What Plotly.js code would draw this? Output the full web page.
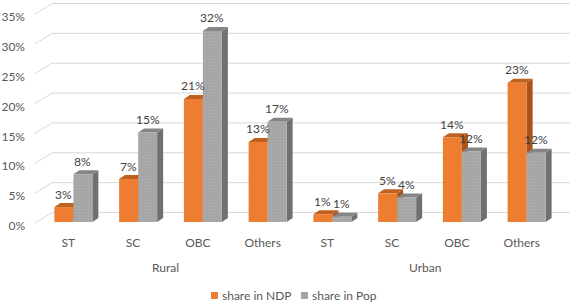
<!DOCTYPE html>
<html><head><meta charset="utf-8">
<script src="https://cdn.plot.ly/plotly-3.0.1.min.js"></script>
<style>html,body{margin:0;padding:0;background:#fff}#chart{width:572px;height:305px}</style>
</head><body><div id="chart"></div>
<script>
// ---- data ----
const groupNames = ['Rural', 'Urban'];
const groupOf = ['Rural','Rural','Rural','Rural','Urban','Urban','Urban','Urban'];
const categories = ['ST','SC','OBC','Others','ST','SC','OBC','Others'];
const seriesNames = ['share in NDP', 'share in Pop'];
const shareNDP = [2.5, 7.2, 20.6, 13.4, 1.3, 4.8, 14.2, 23.3];
const sharePop = [8.0, 15.0, 32.0, 16.8, 0.9, 4.1, 11.8, 11.6];
const yTicks = [0, 5, 10, 15, 20, 25, 30, 35];

// ---- geometry / style ----
const W = 572, H = 305, mL = 36, mR = 18, mT = 13, mB = 83;
const pw = W - mL - mR, ph = H - mT - mB;
const xr = [-0.5, categories.length - 0.5], yr = [0, 35];
const ux = (xr[1] - xr[0]) / pw;   // data units per px (x)
const uy = (yr[1] - yr[0]) / ph;   // data units per px (y)
const barW = 19 * ux, shift = 5 * ux, depX = 6 * ux, depY = 4 * uy;
const FONT = 'Lato, "Open Sans", sans-serif';
const idx = categories.map((_, i) => i);

const series = [
  {name: seriesNames[0], vals: shareNDP, off: shift - barW, front: '#ED7D31', top: '#C0621F', side: '#A9531A', pattern: null},
  {name: seriesNames[1], vals: sharePop, off: shift, front: '#A5A5A5', top: '#858585', side: '#707070',
   pattern: {shape: '.', bgcolor: '#A5A5A5', fgcolor: '#AFAFAF', size: 3, solidity: 0.25}}
];

const traces = series.map(s => {
  const marker = {color: s.front, line: {width: 0}};
  if (s.pattern) marker.pattern = s.pattern;
  return {
    type: 'bar', x: idx, y: s.vals, name: s.name,
    width: barW, offset: s.off, marker,
    hoverinfo: 'skip', showlegend: false
  };
});

const shapes = [];
// gridlines (back wall + slanted edge)
const px2paperX = p => (p - mL) / pw;
yTicks.forEach(v => {
  const yf = v / yr[1] - 1 / ph, yb = v / yr[1] + 9.5 / ph;
  shapes.push({type: 'path', xref: 'paper', yref: 'paper', layer: 'below',
    path: `M ${px2paperX(35)},${yf} L ${px2paperX(52)},${yb} L ${px2paperX(570)},${yb}`,
    line: {color: '#D9D9D9', width: 1}});
});
// 3D faces
series.forEach(s => {
  s.vals.forEach((v, i) => {
    const x0 = i + s.off, x1 = x0 + barW;
    shapes.push({type: 'path', xref: 'x', yref: 'y', layer: 'below',
      path: `M ${x1},0 L ${x1 + depX},${depY} L ${x1 + depX},${v + depY} L ${x1},${v} Z`,
      fillcolor: s.side, line: {width: 0}});
    shapes.push({type: 'path', xref: 'x', yref: 'y', layer: 'below',
      path: `M ${x0},${v} L ${x1},${v} L ${x1 + depX},${v + depY} L ${x0 + depX},${v + depY} Z`,
      fillcolor: s.top, line: {width: 0}});
  });
});

const annotations = [];
// data labels
series.forEach(s => {
  s.vals.forEach((v, i) => {
    annotations.push({x: i + s.off + barW / 2, y: v, xref: 'x', yref: 'y',
      text: Math.round(v) + '%', showarrow: false, yanchor: 'middle', yshift: 13,
      font: {family: FONT, size: 12, color: '#404040'}});
  });
});
// group labels
groupNames.forEach(g => {
  const members = idx.filter(i => groupOf[i] === g);
  const cx = members.reduce((a, b) => a + b, 0) / members.length;
  annotations.push({x: cx, y: (mT + ph - 267) / ph, xref: 'x', yref: 'paper',
    text: g, showarrow: false, yanchor: 'middle',
    font: {family: FONT, size: 12, color: '#595959'}});
});
// legend (manual)
const legY = (mT + ph - 295.5) / ph;
const legX = [211, 301];
series.forEach((s, k) => {
  shapes.push({type: 'rect', xref: 'paper', yref: 'paper',
    x0: px2paperX(legX[k]), x1: px2paperX(legX[k] + 7),
    y0: legY - 3.5 / ph, y1: legY + 3.5 / ph,
    fillcolor: s.front, line: {width: 0}});
  annotations.push({x: px2paperX(legX[k] + 9), y: legY, xref: 'paper', yref: 'paper',
    text: s.name, showarrow: false, xanchor: 'left', yanchor: 'middle',
    font: {family: FONT, size: 12, color: '#595959'}});
});

const layout = {
  width: W, height: H,
  margin: {l: mL, r: mR, t: mT, b: mB, pad: 0},
  paper_bgcolor: '#fff', plot_bgcolor: 'rgba(0,0,0,0)',
  barmode: 'overlay', showlegend: false,
  font: {family: FONT, size: 12, color: '#595959'},
  xaxis: {range: xr, tickvals: idx, ticktext: categories, showgrid: false,
    zeroline: false, showline: false, ticks: '', ticklabelstandoff: 12,
    tickfont: {family: FONT, size: 12, color: '#595959'}, fixedrange: true},
  yaxis: {range: yr, tickvals: yTicks, ticktext: yTicks.map(t => t + '%'),
    showgrid: false, zeroline: false, showline: false, ticks: '',
    ticklabelstandoff: 10, ticklabelshift: 4,
    tickfont: {family: FONT, size: 12, color: '#595959'}, fixedrange: true},
  shapes, annotations
};
Plotly.newPlot('chart', traces, layout, {displayModeBar: false, staticPlot: true});
</script>
</body></html>
